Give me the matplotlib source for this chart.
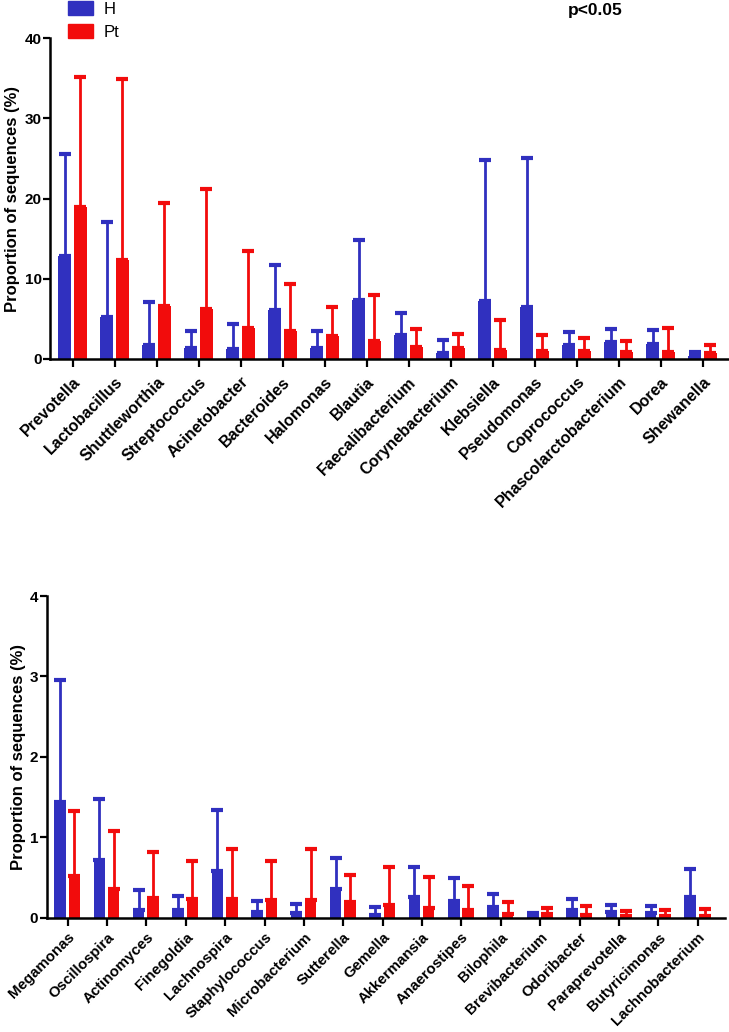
import matplotlib
matplotlib.use("Agg")
import matplotlib.pyplot as plt
import numpy as np
from matplotlib.patches import Patch

plt.rcParams['font.family'] = ['Liberation Sans', 'DejaVu Sans']

# ---------------- data ----------------
top_genera = ["Prevotella", "Lactobacillus", "Shuttleworthia", "Streptococcus",
              "Acinetobacter", "Bacteroides", "Halomonas", "Blautia",
              "Faecalibacterium", "Corynebacterium", "Klebsiella", "Pseudomonas",
              "Coprococcus", "Phascolarctobacterium", "Dorea", "Shewanella"]
top_H_mean = [12.8, 5.2, 1.7, 1.4, 1.3, 6.1, 1.4, 7.3, 3.0, 0.8, 7.2, 6.5, 1.7, 2.1, 1.9, 0.4]
top_H_err_top = [25.6, 17.1, 7.1, 3.5, 4.3, 11.7, 3.5, 14.8, 5.7, 2.4, 24.8, 25.1, 3.4, 3.8, 3.6, 0.9]
top_Pt_mean = [18.9, 12.3, 6.6, 6.2, 3.9, 3.5, 2.9, 2.3, 1.5, 1.4, 1.1, 1.0, 1.0, 0.9, 0.9, 0.8]
top_Pt_err_top = [35.1, 34.9, 19.5, 21.2, 13.4, 9.3, 6.5, 8.0, 3.8, 3.1, 4.8, 3.0, 2.6, 2.3, 3.9, 1.7]

bot_genera = ["Megamonas", "Oscillospira", "Actinomyces", "Finegoldia", "Lachnospira",
              "Staphylococcus", "Microbacterium", "Sutterella", "Gemella", "Akkermansia",
              "Anaerostipes", "Bilophila", "Brevibacterium", "Odoribacter",
              "Paraprevotella", "Butyricimonas", "Lachnobacterium"]
bot_H_mean = [1.44, 0.72, 0.10, 0.10, 0.58, 0.07, 0.06, 0.36, 0.03, 0.26, 0.21, 0.13, 0.02, 0.10, 0.07, 0.06, 0.26]
bot_H_err_top = [2.96, 1.48, 0.35, 0.27, 1.34, 0.21, 0.17, 0.74, 0.13, 0.63, 0.49, 0.29, 0.06, 0.23, 0.16, 0.15, 0.61]
bot_Pt_mean = [0.52, 0.36, 0.25, 0.23, 0.23, 0.22, 0.22, 0.19, 0.16, 0.12, 0.10, 0.05, 0.05, 0.03, 0.02, 0.02, 0.02]
bot_Pt_err_top = [1.33, 1.08, 0.82, 0.70, 0.86, 0.70, 0.86, 0.53, 0.63, 0.51, 0.39, 0.19, 0.12, 0.15, 0.08, 0.10, 0.11]

group_labels = ["H", "Pt"]
BLUE = "#3030bf"
RED = "#f20c0c"

W, H = 729, 1032
fig = plt.figure(figsize=(W / 100, H / 100), dpi=100)


def panel(rect, genera, hm, he, pm, pe, ymax, yticks, xlim, width, offs, lab_fs, lab_pad):
    ax = fig.add_axes(rect)
    x = np.arange(len(genera))
    hm = np.array(hm); he = np.array(he); pm = np.array(pm); pe = np.array(pe)
    for means, tops, off, col in [(hm, he, offs[0], BLUE), (pm, pe, offs[1], RED)]:
        ax.bar(x + off, means, width, color=col, edgecolor=col, linewidth=0, zorder=2)
        ax.errorbar(x + off, means, yerr=[np.zeros_like(means), tops - means],
                    fmt='none', ecolor=col, elinewidth=2.0, capsize=4.0,
                    capthick=3.0, zorder=1)
    ax.set_xlim(*xlim)
    ax.set_ylim(0, ymax)
    ax.set_yticks(yticks)
    ax.set_yticklabels([str(t) for t in yticks], fontsize=11, fontweight='bold')
    ax.set_xticks(x)
    ax.set_xticklabels(genera, rotation=45, ha='right', va='top',
                       rotation_mode='anchor', fontsize=lab_fs,
                       fontweight='bold')
    for s in ['top', 'right']:
        ax.spines[s].set_visible(False)
    for s in ['left', 'bottom']:
        ax.spines[s].set_linewidth(1.8)
    ax.tick_params(axis='y', direction='out', length=5, width=1.6, pad=1)
    ax.tick_params(axis='x', direction='out', length=6, width=1.6, pad=lab_pad)
    ax.set_ylabel("Proportion of sequences (%)", fontsize=12, fontweight='bold', labelpad=3)
    return ax


ax1 = panel([50 / W, 1 - 359 / H, 678 / W, 321 / H], top_genera,
            top_H_mean, top_H_err_top, top_Pt_mean, top_Pt_err_top,
            40, [0, 10, 20, 30, 40], (-0.54, 15.6), 0.31, (-0.19, 0.18), 11.5, 5)

ax2 = panel([46.7 / W, 1 - 917.7 / H, 678.3 / W, 321.7 / H], bot_genera,
            bot_H_mean, bot_H_err_top, bot_Pt_mean, bot_Pt_err_top,
            4, [0, 1, 2, 3, 4], (-0.53, 16.69), 0.29, (-0.195, 0.17), 10.8, 3)

handles = [Patch(facecolor=BLUE, edgecolor=BLUE), Patch(facecolor=RED, edgecolor=RED)]
fig.legend(handles, group_labels, loc='upper left',
           bbox_to_anchor=(68 / W, 1 - 1 / H), frameon=False, fontsize=12,
           handlelength=1.5, handleheight=0.9, labelspacing=0.45,
           handletextpad=0.65, borderpad=0, borderaxespad=0)

fig.text(568 / W, 1 - 11 / H, "p<0.05", fontsize=12.5, fontweight='bold', va='center', ha='left')

fig.savefig("out.png", dpi=100)
